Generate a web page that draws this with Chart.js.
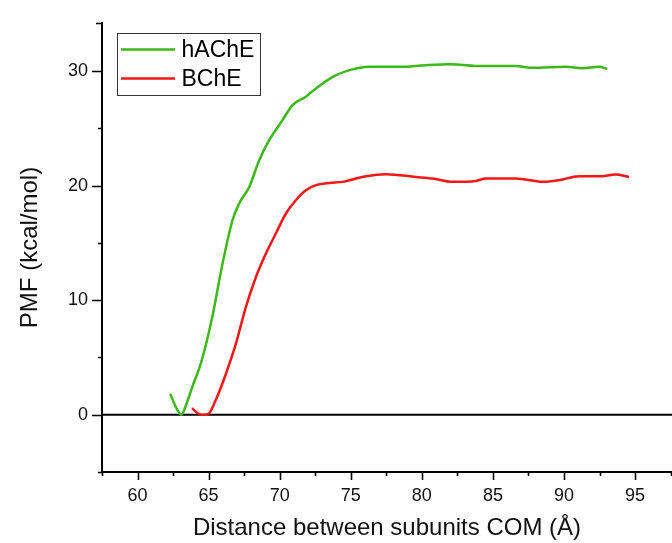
<!DOCTYPE html>
<html>
<head>
<meta charset="utf-8">
<script src="https://cdn.jsdelivr.net/npm/chart.js@4"></script>
<style>
  html, body { margin: 0; padding: 0; background: #fff; }
  #wrap { width: 672px; height: 543px; position: relative; }
</style>
</head>
<body>
<div id="wrap"><canvas id="c" width="672" height="543"></canvas></div>
<script>
// ---- data ----
const hacheLabel = "hAChE";
const hacheX = [62.3, 62.7, 63.09, 63.4, 63.87, 64.46, 65.27, 65.98, 66.68, 67.15, 67.86, 68.56, 69.26, 70.2, 70.9, 71.84, 72.55, 73.83, 75.12, 76.29, 78.4, 80.28, 81.92, 84.26, 86.61, 87.78, 90.13, 91.29, 92.47, 93.05];
const hacheY = [1.84, 0.66, 0, 0.8, 2.5, 4.5, 8.6, 13.2, 16.98, 18.44, 19.89, 22.22, 23.97, 25.72, 27.03, 27.76, 28.49, 29.56, 30.15, 30.38, 30.38, 30.52, 30.59, 30.44, 30.44, 30.29, 30.38, 30.24, 30.38, 30.18];

const bcheLabel = "BChE";
const bcheX = [63.83, 64.34, 64.69, 64.97, 65.51, 66.22, 66.92, 67.62, 68.33, 69.03, 69.73, 70.44, 71.14, 71.84, 72.55, 73.48, 74.42, 76.06, 77.47, 79.58, 80.75, 82.15, 83.8, 84.5, 86.61, 87.31, 88.48, 89.66, 91.06, 92.47, 93.64, 94.58];
const bcheY = [0.58, 0.05, 0, 0.05, 1.3, 3.58, 6.2, 9.4, 12.02, 14.07, 15.82, 17.57, 18.73, 19.6, 20.04, 20.24, 20.33, 20.82, 21.0, 20.76, 20.62, 20.33, 20.41, 20.62, 20.62, 20.54, 20.33, 20.48, 20.82, 20.82, 20.97, 20.76];

const xTickValues = [57.5, 60, 62.5, 65, 67.5, 70, 72.5, 75, 77.5, 80, 82.5, 85, 87.5, 90, 92.5, 95, 97.5];
const xTickLabels = [60, 65, 70, 75, 80, 85, 90, 95];
const yTickValues = [-5, 0, 5, 10, 15, 20, 25, 30];
const yTickLabels = [0, 10, 20, 30];
const xTitle = "Distance between subunits COM (Å)";
const yTitle = "PMF (kcal/mol)";

const FONT = "'Liberation Sans', Arial, sans-serif";
const GREEN = '#3cb81a';
const RED = '#f51616';

const toPts = (xs, ys) => xs.map((x, i) => ({ x: x, y: ys[i] }));

// draws ticks (major/minor), zero line and framed legend
const decor = {
  id: 'decor',
  beforeDatasetsDraw(chart) {
    const ctx = chart.ctx, ca = chart.chartArea;
    const ys = chart.scales.y;
    const y0 = ys.getPixelForValue(0);
    ctx.save();
    ctx.strokeStyle = '#000';
    ctx.lineWidth = 2;
    ctx.beginPath();
    ctx.moveTo(ca.left, y0);
    ctx.lineTo(ca.right, y0);
    ctx.stroke();
    ctx.restore();
  },
  afterDraw(chart) {
    const ctx = chart.ctx, ca = chart.chartArea;
    const xs = chart.scales.x, ys = chart.scales.y;
    ctx.save();
    ctx.strokeStyle = '#000';
    ctx.lineWidth = 1.6;
    ctx.beginPath();
    xTickValues.forEach(v => {
      const px = Math.round(xs.getPixelForValue(v)) + 0.5;
      const len = xTickLabels.includes(v) ? 8 : 4;
      ctx.moveTo(px, ca.bottom);
      ctx.lineTo(px, ca.bottom + len);
    });
    yTickValues.forEach(v => {
      const py = Math.round(ys.getPixelForValue(v)) + 0.5;
      const len = yTickLabels.includes(v) ? 10 : 4;
      ctx.moveTo(ca.left, py);
      ctx.lineTo(ca.left - len, py);
    });
    // top end cap of y axis
    const pt = Math.round(ys.getPixelForValue(ys.max)) + 0.5;
    ctx.moveTo(ca.left, pt);
    ctx.lineTo(ca.left - 6, pt);
    ctx.stroke();

    // legend
    const bx = 117.5, by = 33.5, bw = 143, bh = 62;
    ctx.lineWidth = 1;
    ctx.strokeStyle = '#333';
    ctx.strokeRect(bx, by, bw, bh);
    ctx.font = "23px " + FONT;
    ctx.textBaseline = 'middle';
    ctx.fillStyle = '#000';
    const rows = [49.5, 78.5];
    chart.data.datasets.forEach((ds, i) => {
      ctx.strokeStyle = ds.borderColor;
      ctx.lineWidth = 2.5;
      ctx.beginPath();
      ctx.moveTo(121, rows[i]);
      ctx.lineTo(175, rows[i]);
      ctx.stroke();
      ctx.fillText(ds.label, 181.5, rows[i] + 1);
    });
    ctx.restore();
  }
};

new Chart(document.getElementById('c'), {
  type: 'line',
  data: {
    datasets: [
      { label: hacheLabel, data: toPts(hacheX, hacheY), borderColor: GREEN, borderWidth: 2.5, pointRadius: 0, cubicInterpolationMode: 'monotone', fill: false },
      { label: bcheLabel, data: toPts(bcheX, bcheY), borderColor: RED, borderWidth: 2.5, pointRadius: 0, cubicInterpolationMode: 'monotone', fill: false }
    ]
  },
  options: {
    responsive: false,
    animation: false,
    events: [],
    layout: { padding: { top: 23, right: -4, left: 0, bottom: 0 } },
    plugins: { legend: { display: false }, tooltip: { enabled: false } },
    scales: {
      x: {
        type: 'linear',
        min: 57.5,
        max: 97.6,
        afterFit(s) { s.height = 71; s.paddingRight = 0; },
        afterBuildTicks(s) { s.ticks = xTickValues.map(v => ({ value: v })); },
        border: { display: true, color: '#000', width: 2 },
        grid: { display: true, drawOnChartArea: false, drawTicks: true, tickLength: 8, tickColor: 'rgba(0,0,0,0)' },
        ticks: {
          autoSkip: false, maxRotation: 0, padding: 5, color: '#111',
          font: { family: FONT, size: 18 },
          callback: v => xTickLabels.includes(v) ? String(v) : ''
        },
        title: { display: true, text: xTitle, color: '#111', font: { family: FONT, size: 24 }, padding: { top: 2, bottom: 0 } }
      },
      y: {
        type: 'linear',
        min: -5,
        max: 34.2,
        afterFit(s) { s.width = 102; },
        afterBuildTicks(s) { s.ticks = yTickValues.map(v => ({ value: v })); },
        border: { display: true, color: '#000', width: 2 },
        grid: { display: true, drawOnChartArea: false, drawTicks: true, tickLength: 10, tickColor: 'rgba(0,0,0,0)' },
        ticks: {
          autoSkip: false, padding: 4, color: '#111',
          font: { family: FONT, size: 18 },
          callback: v => yTickLabels.includes(v) ? String(v) : ''
        },
        title: { display: true, text: yTitle, color: '#111', font: { family: FONT, size: 24 }, padding: { top: 16, bottom: 0 } }
      }
    }
  },
  plugins: [decor]
});
</script>
</body>
</html>
